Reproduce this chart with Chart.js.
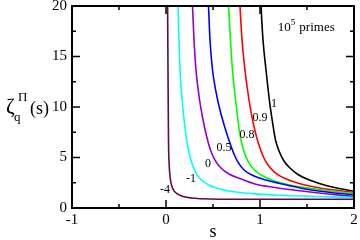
<!DOCTYPE html>
<html>
<head>
<meta charset="utf-8">
<script src="https://cdn.jsdelivr.net/npm/chart.js@4"></script>
<style>
  html, body { margin: 0; padding: 0; background: #fff; }
  #wrap { width: 360px; height: 240px; }
</style>
</head>
<body>
<div id="wrap"><canvas id="zetaChart"></canvas></div>
<script>
// q of each curve and its colour (xmgrace palette)
const qLabels = ['-4', '-1', '0', '0.5', '0.8', '0.9', '1'];
const curveColors = ['#670748', '#00ffff', '#9400d3', '#0000ff', '#00ff00', '#ff0000', '#000000'];

// values: s and zeta_q(s) per curve
const sQm4 = [0.0149, 0.017, 0.0213, 0.0266, 0.034, 0.0447, 0.0617, 0.0851, 0.122, 0.181, 0.277, 0.468, 1.0, 2.0];
const zQm4 = [23.6, 20.0, 13.66, 6.73, 4.26, 2.97, 2.18, 1.70, 1.39, 1.14, 0.99, 0.89, 0.86, 0.86];

const sQm1 = [0.120, 0.128, 0.138, 0.149, 0.168, 0.189, 0.213, 0.239, 0.271, 0.309, 0.362, 0.436, 0.543, 0.702, 0.915, 1.213, 1.585, 2.0];
const zQm1 = [23.6, 20.0, 16.63, 13.66, 11.09, 9.01, 7.13, 5.74, 4.55, 3.66, 2.92, 2.38, 1.95, 1.63, 1.42, 1.26, 1.14, 1.04];

const sQ0 = [0.266, 0.282, 0.298, 0.319, 0.351, 0.388, 0.431, 0.473, 0.521, 0.585, 0.670, 0.787, 0.947, 1.160, 1.426, 1.702, 2.0];
const zQ0 = [23.6, 20.0, 16.63, 13.66, 11.09, 9.01, 7.13, 5.74, 4.75, 3.96, 3.37, 2.92, 2.38, 2.03, 1.70, 1.41, 1.14];

const sQ05 = [0.431, 0.452, 0.468, 0.495, 0.532, 0.574, 0.628, 0.676, 0.723, 0.771, 0.830, 0.926, 1.064, 1.213, 1.426, 1.713, 2.0];
const zQ05 = [23.6, 20.0, 16.63, 13.66, 11.49, 9.70, 7.92, 6.53, 5.35, 4.46, 3.76, 3.22, 2.77, 2.43, 1.98, 1.58, 1.29];

const sQ08 = [0.644, 0.665, 0.686, 0.707, 0.734, 0.761, 0.787, 0.824, 0.872, 0.936, 1.021, 1.138, 1.309, 1.532, 1.766, 2.0];
const zQ08 = [23.6, 20.0, 16.63, 13.66, 11.19, 9.01, 7.23, 5.74, 4.65, 3.81, 3.22, 2.72, 2.30, 1.95, 1.66, 1.44];

const sQ09 = [0.766, 0.787, 0.809, 0.840, 0.878, 0.915, 0.952, 0.989, 1.032, 1.085, 1.160, 1.255, 1.383, 1.553, 1.766, 2.0];
const zQ09 = [23.6, 20.0, 16.63, 13.66, 10.99, 9.01, 7.43, 6.24, 5.15, 4.26, 3.51, 2.97, 2.52, 2.13, 1.80, 1.55];

const sQ1 = [0.995, 1.011, 1.032, 1.064, 1.101, 1.133, 1.165, 1.207, 1.255, 1.319, 1.404, 1.511, 1.649, 1.819, 2.0];
const zQ1 = [23.6, 20.0, 16.63, 13.66, 10.59, 8.51, 6.73, 5.54, 4.65, 3.96, 3.32, 2.82, 2.38, 1.98, 1.65];

const sSeries = [sQm4, sQm1, sQ0, sQ05, sQ08, sQ09, sQ1];
const zSeries = [zQm4, zQm1, zQ0, zQ05, zQ08, zQ09, zQ1];

// curve labels, placed in data coordinates
const labelS = [-0.011, 0.266, 0.447, 0.617, 0.862, 1.0, 1.149];
const labelZ = [1.78, 2.87, 4.36, 5.94, 7.23, 8.91, 10.3];

// axis ticks
const xMajorTicks = [-1, 0, 1, 2];
const xMinorTicks = [-0.5, 0.5, 1.5];
const yMajorTicks = [0, 5, 10, 15, 20];
const yMinorTicks = [2.5, 7.5, 12.5, 17.5];

const serif = '"Liberation Serif", "DejaVu Serif", serif';

const datasets = qLabels.map((q, i) => ({
    label: 'q = ' + q,
    data: sSeries[i].map((s, j) => ({ x: s, y: zSeries[i][j] })),
    showLine: true,
    borderColor: curveColors[i],
    backgroundColor: curveColors[i],
    borderWidth: 1.6,
    pointRadius: 0,
    cubicInterpolationMode: 'monotone',
    fill: false
}));

// Frame, inward ticks on all four sides, titles and curve labels
const decorations = {
    id: 'decorations',
    afterDraw(chart) {
        const { ctx, chartArea: a, scales: { x, y } } = chart;
        ctx.save();
        ctx.strokeStyle = '#000';
        ctx.lineWidth = 2;
        ctx.strokeRect(a.left, a.top, a.right - a.left, a.bottom - a.top);

        ctx.lineWidth = 1.5;
        ctx.beginPath();
        const xTick = (v, len) => {
            const px = x.getPixelForValue(v);
            ctx.moveTo(px, a.bottom); ctx.lineTo(px, a.bottom - len);
            ctx.moveTo(px, a.top); ctx.lineTo(px, a.top + len);
        };
        const yTick = (v, len) => {
            const py = y.getPixelForValue(v);
            ctx.moveTo(a.left, py); ctx.lineTo(a.left + len, py);
            ctx.moveTo(a.right, py); ctx.lineTo(a.right - len, py);
        };
        xMajorTicks.forEach(v => xTick(v, 8));
        xMinorTicks.forEach(v => xTick(v, 4));
        yMajorTicks.forEach(v => yTick(v, 8));
        yMinorTicks.forEach(v => yTick(v, 4));
        ctx.stroke();

        // curve labels
        ctx.fillStyle = '#000';
        ctx.font = '12px ' + serif;
        ctx.textAlign = 'center';
        ctx.textBaseline = 'middle';
        qLabels.forEach((q, i) => {
            ctx.fillText(q, x.getPixelForValue(labelS[i]), y.getPixelForValue(labelZ[i]));
        });

        // "10^5 primes"
        ctx.textAlign = 'left';
        ctx.textBaseline = 'alphabetic';
        const bx = x.getPixelForValue(1.19), by = y.getPixelForValue(17.5);
        ctx.font = '13px ' + serif;
        ctx.fillText('10', bx, by);
        let w = ctx.measureText('10').width;
        ctx.font = '9px ' + serif;
        ctx.fillText('5', bx + w, by - 6);
        w += ctx.measureText('5').width + 4;
        ctx.font = '13px ' + serif;
        ctx.fillText('primes', bx + w, by);

        // x title
        ctx.font = '18px ' + serif;
        ctx.textAlign = 'center';
        ctx.fillText('s', (a.left + a.right) / 2, 237);

        // y title: zeta with subscript q and superscript Pi
        ctx.textAlign = 'left';
        ctx.font = '21px ' + serif;
        ctx.fillText('\u03B6', 6, 113);
        ctx.font = '13px ' + serif;
        ctx.fillText('q', 14, 121);
        ctx.fillText('\u03A0', 18, 101);
        ctx.font = '18px ' + serif;
        ctx.fillText('(s)', 30, 114);
        ctx.restore();
    }
};

const ctx = document.getElementById('zetaChart').getContext('2d');
new Chart(ctx, {
    type: 'scatter',
    data: { datasets: datasets },
    options: {
        responsive: true,
        maintainAspectRatio: false,
        animation: false,
        layout: { padding: { top: 6, right: 6, left: 0, bottom: 0 } },
        plugins: {
            legend: { display: false },
            tooltip: { enabled: false }
        },
        scales: {
            x: {
                type: 'linear',
                min: -1,
                max: 2,
                ticks: {
                    stepSize: 1,
                    color: '#000',
                    padding: 3,
                    maxRotation: 0,
                    font: { family: serif, size: 15 }
                },
                grid: { display: false, drawTicks: false },
                border: { display: false },
                afterFit(scale) {
                    scale.height = 32;
                    scale.paddingLeft = 0;
                    scale.paddingRight = 0;
                }
            },
            y: {
                type: 'linear',
                min: 0,
                max: 20,
                ticks: {
                    stepSize: 5,
                    color: '#000',
                    padding: 5,
                    font: { family: serif, size: 15 }
                },
                grid: { display: false, drawTicks: false },
                border: { display: false },
                afterFit(scale) {
                    scale.width = 72;
                    scale.paddingTop = 0;
                    scale.paddingBottom = 0;
                }
            }
        }
    },
    plugins: [decorations]
});
</script>
</body>
</html>
